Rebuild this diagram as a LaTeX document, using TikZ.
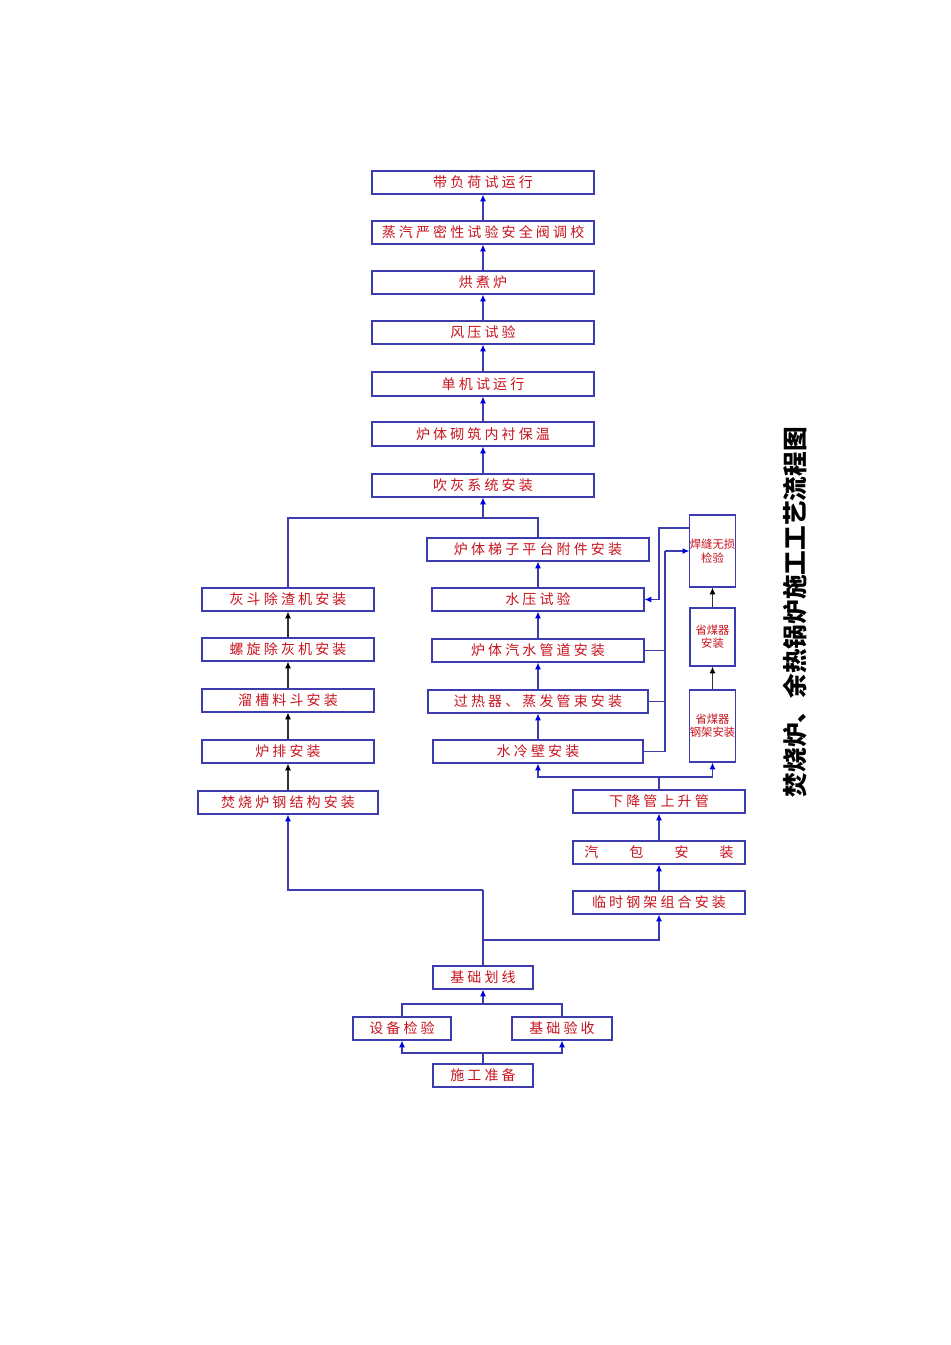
\documentclass[tikz,border=0pt]{standalone}
\usepackage{fontspec}
\setmainfont{Noto Sans CJK SC}
\usetikzlibrary{arrows.meta}
\definecolor{bx}{RGB}{60,60,175}
\definecolor{ab}{RGB}{0,0,225}
\definecolor{tx}{RGB}{200,20,30}
\tikzset{
  box/.style={draw=bx,line width=0.9pt,inner sep=0pt,text=tx,font=\fontsize{10.5}{12}\selectfont,align=center},
  small/.style={font=\fontsize{8.5}{10}\selectfont},
  ln/.style={draw=bx,line width=0.9pt},
  arr/.style={ln,-{Latex[length=5pt,width=4.5pt,color=ab]}},
  barr/.style={draw=black!80,line width=0.9pt,-{Latex[length=5pt,width=4.5pt,color=black]}}
}
\newcommand{\bx}[7][]{\node[box,#1,minimum width={(#4-#3)*0.75pt},minimum height={(#6-#5)*0.75pt}] (#2) at ({(#3+#4)/2},{(#5+#6)/2}) {#7};}
\begin{document}
\begin{tikzpicture}[x=0.75pt,y=-0.75pt]
\useasboundingbox (0,0) rectangle (950,1345);
\fill[white] (0,0) rectangle (950,1345);
% main column
\bx{A1}{372}{594}{171}{194}{带 负 荷 试 运 行}
\bx{A2}{372}{594}{221}{244}{蒸 汽 严 密 性 试 验 安 全 阀 调 校}
\bx{A3}{372}{594}{271}{294}{烘 煮 炉}
\bx{A4}{372}{594}{321}{344}{风 压 试 验}
\bx{A5}{372}{594}{372}{396}{单 机 试 运 行}
\bx{A6}{372}{594}{422}{446}{炉 体 砌 筑 内 衬 保 温}
\bx{A7}{372}{594}{474}{497}{吹 灰 系 统 安 装}
% left column
\bx{L1}{202}{374}{588}{611}{灰 斗 除 渣 机 安 装}
\bx{L2}{202}{374}{638}{661}{螺 旋 除 灰 机 安 装}
\bx{L3}{202}{374}{689}{712}{溜 槽 料 斗 安 装}
\bx{L4}{202}{374}{740}{763}{炉 排 安 装}
\bx{L5}{198}{378}{791}{814}{焚 烧 炉 钢 结 构 安 装}
% middle column
\bx{M1}{427}{649}{538}{561}{炉 体 梯 子 平 台 附 件 安 装}
\bx{M2}{432}{644}{588}{611}{水 压 试 验}
\bx{M3}{432}{644}{639}{662}{炉 体 汽 水 管 道 安 装}
\bx{M4}{428}{648}{690}{713}{过 热 器 、 蒸 发 管 束 安 装}
\bx{M5}{433}{643}{740}{763}{水 冷 壁 安 装}
% right column
\bx{R1}{573}{745}{790}{813}{下 降 管 上 升 管}
\bx{R2}{573}{745}{841}{864}{汽 \qquad 包 \qquad 安 \qquad 装}
\bx{R3}{573}{745}{891}{914}{临 时 钢 架 组 合 安 装}
% small boxes
\bx[small]{S1}{690}{735}{690}{762}{省煤器\\钢架安装}
\bx[small]{S2}{690}{735}{608}{666}{省煤器\\安装}
\bx[small]{S3}{690}{735}{515}{587}{焊缝无损\\检验}
% bottom
\bx{G}{433}{533}{966}{989}{基 础 划 线}
\bx{Q1}{353}{451}{1017}{1040}{设 备 检 验}
\bx{Q2}{512}{612}{1017}{1040}{基 础 验 收}
\bx{P}{433}{533}{1064}{1087}{施 工 准 备}
% title
\node[rotate=90,font=\fontsize{18.5}{20}\selectfont\bfseries] (T) at (795,612) {焚烧炉、余热锅炉施工工艺流程图};
% main column arrows
\foreach \a/\b in {A7/A6,A6/A5,A5/A4,A4/A3,A3/A2,A2/A1} \draw[arr] (\a.north) -- (\b.south);
\coordinate (j1) at (483,518);
\draw[ln] (L1.north) |- (j1) -| (M1.north);
\draw[arr] (j1) -- (A7.south);
% left column
\foreach \a/\b in {L5/L4,L4/L3,L3/L2,L2/L1} \draw[barr] (\a.north) -- (\b.south);
% middle column
\foreach \a/\b in {M5/M4,M4/M3,M3/M2,M2/M1} \draw[arr] (\a.north) -- (\b.south);
% right column
\foreach \a/\b in {R3/R2,R2/R1} \draw[arr] (\a.north) -- (\b.south);
\coordinate (j2) at (659,777);
\draw[ln] (R1.north) -- (j2);
\draw[arr] (j2) -| (M5.south);
\draw[arr] (j2) -| (S1.south);
\draw[barr] (S1.north) -- (S2.south);
\draw[barr] (S2.north) -- (S3.south);
\coordinate (c1) at (665,551);
\draw[ln] (M5.east) -| (c1);
\draw[ln] (M4.east) -- (M4.east -| c1);
\draw[ln] (M3.east) -- (M3.east -| c1);
\draw[arr] (c1) -- (c1 -| S3.west);
\coordinate (c2) at (659,528);
\draw[arr] (S3.west |- c2) -- (c2) |- (M2.east);
% bottom
\coordinate (c3) at (483,1053);
\draw[ln] (P.north) -- (c3);
\draw[arr] (c3) -| (Q1.south);
\draw[arr] (c3) -| (Q2.south);
\coordinate (c4) at (483,1004);
\draw[ln] (Q1.north) |- (c4) -| (Q2.north);
\draw[arr] (c4) -- (G.south);
\coordinate (c5) at (483,940);
\coordinate (c6) at (483,890);
\draw[ln] (G.north) -- (c6);
\draw[arr] (c6) -| (L5.south);
\draw[arr] (c5) -| (R3.south);
\end{tikzpicture}
\end{document}
